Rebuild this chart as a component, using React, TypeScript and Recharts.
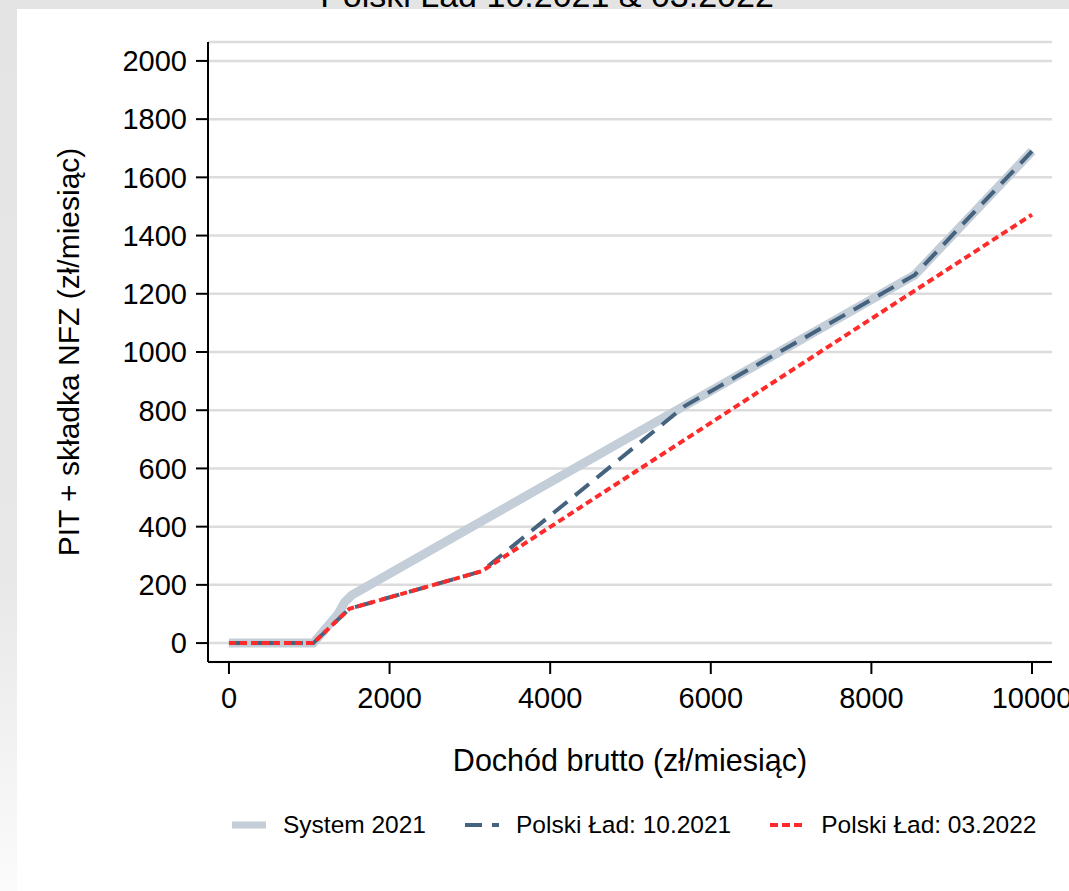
import React from 'react';
import { LineChart, Line, XAxis, YAxis, CartesianGrid } from 'recharts';

// monthly gross income (zł) -> PIT + health contribution (zł)
const systemIncome = [0, 1050, 1360, 1440, 1530, 8540, 10000];
const systemTax = [0, 0, 100, 140, 165, 1265, 1690];

const ladOctIncome = [0, 1050, 1500, 3150, 5680, 8540, 10000];
const ladOctTax = [0, 0, 118, 247, 815, 1265, 1690];

const ladMarIncome = [0, 1050, 1500, 3150, 10000];
const ladMarTax = [0, 0, 118, 247, 1472];

const xTicks = [0, 2000, 4000, 6000, 8000, 10000];
const yTicks = [0, 200, 400, 600, 800, 1000, 1200, 1400, 1600, 1800, 2000];

const seriesNames = ['System 2021', 'Polski Ład: 10.2021', 'Polski Ład: 03.2022'];

const FONT = '"Liberation Sans", Arial, Helvetica, sans-serif';
const GRAY = '#c4ced8';
const BLUE = '#45637f';
const RED = '#ff2a2a';

const toPoints = (xs: number[], ys: number[]) =>
  xs.map((income, i) => ({ income, tax: ys[i] }));

const systemData = toPoints(systemIncome, systemTax);
const ladOctData = toPoints(ladOctIncome, ladOctTax);
const ladMarData = toPoints(ladMarIncome, ladMarTax);

const legendStyles = [
  { stroke: GRAY, width: 7, dash: undefined },
  { stroke: BLUE, width: 4, dash: '17 10' },
  { stroke: RED, width: 4, dash: '8 4' },
];

const XLabel = ({ viewBox }: any) => (
  <text
    x={viewBox.x + viewBox.width / 2}
    y={viewBox.y + 109}
    textAnchor="middle"
    fontSize={30.5}
    fontFamily={FONT}
    fill="#000"
  >
    Dochód brutto (zł/miesiąc)
  </text>
);

const YLabel = ({ viewBox }: any) => {
  const x = viewBox.x - 49;
  const y = viewBox.y + viewBox.height / 2;
  return (
    <text
      x={x}
      y={y}
      transform={`rotate(-90, ${x}, ${y})`}
      textAnchor="middle"
      fontSize={30}
      fontFamily={FONT}
      fill="#000"
    >
      PIT + składka NFZ (zł/miesiąc)
    </text>
  );
};

export default function App() {
  return (
    <div
      style={{
        position: 'fixed',
        left: 0,
        top: 0,
        width: 1069,
        height: 891,
        overflow: 'hidden',
        fontFamily: FONT,
        background: 'linear-gradient(to bottom, #e4e4e4 0%, #e8e8e8 65%, #fbfbfb 100%)',
      }}
    >
      <div
        style={{
          position: 'absolute',
          left: 0,
          width: 1094,
          top: -22,
          fontSize: 34,
          lineHeight: '34px',
          textAlign: 'center',
          color: '#000',
        }}
      >
        Polski Ład 10.2021 &amp; 03.2022
      </div>
      <div style={{ position: 'absolute', left: 17, top: 9, right: 0, bottom: 0, background: '#fff' }} />
      <div style={{ position: 'absolute', left: 0, top: 0 }}>
        <LineChart width={1069} height={891} margin={{ top: 42, right: 17, left: 128, bottom: 169 }}>
          <CartesianGrid vertical={false} stroke="#dcdcdc" strokeWidth={2.5} />
          <XAxis
            type="number"
            dataKey="income"
            domain={[-261, 10249]}
            ticks={xTicks}
            height={60}
            tickSize={12}
            tickMargin={13}
            tick={{ fontSize: 29, fill: '#000', fontFamily: FONT }}
            axisLine={{ stroke: '#000', strokeWidth: 2 }}
            tickLine={{ stroke: '#000', strokeWidth: 2 }}
            allowDataOverflow
            label={<XLabel />}
          />
          <YAxis
            type="number"
            dataKey="tax"
            domain={[-65, 2065]}
            ticks={yTicks}
            width={80}
            tickSize={12}
            tickMargin={9}
            tick={{ fontSize: 29, fill: '#000', fontFamily: FONT }}
            axisLine={{ stroke: '#000', strokeWidth: 2 }}
            tickLine={{ stroke: '#000', strokeWidth: 2 }}
            allowDataOverflow
            label={<YLabel />}
          />
          <Line
            data={systemData}
            dataKey="tax"
            type="linear"
            stroke={GRAY}
            strokeWidth={9}
            dot={false}
            activeDot={false}
            isAnimationActive={false}
          />
          <Line
            data={ladOctData}
            dataKey="tax"
            type="linear"
            stroke={BLUE}
            strokeWidth={4}
            strokeDasharray="18 10"
            dot={false}
            activeDot={false}
            isAnimationActive={false}
          />
          <Line
            data={ladMarData}
            dataKey="tax"
            type="linear"
            stroke={RED}
            strokeWidth={4}
            strokeDasharray="7 4"
            dot={false}
            activeDot={false}
            isAnimationActive={false}
          />
        </LineChart>
      </div>
      <div
        style={{
          position: 'absolute',
          left: 232,
          top: 805,
          height: 40,
          display: 'flex',
          alignItems: 'center',
          fontSize: 24.5,
          color: '#000',
          whiteSpace: 'nowrap',
        }}
      >
        {seriesNames.map((name, i) => (
          <div key={name} style={{ display: 'flex', alignItems: 'center', marginRight: 39 }}>
            <svg width={34} height={10} style={{ marginRight: 17 }}>
              <line
                x1={0}
                y1={5}
                x2={34}
                y2={5}
                stroke={legendStyles[i].stroke}
                strokeWidth={legendStyles[i].width}
                strokeDasharray={legendStyles[i].dash}
              />
            </svg>
            <span>{name}</span>
          </div>
        ))}
      </div>
    </div>
  );
}
